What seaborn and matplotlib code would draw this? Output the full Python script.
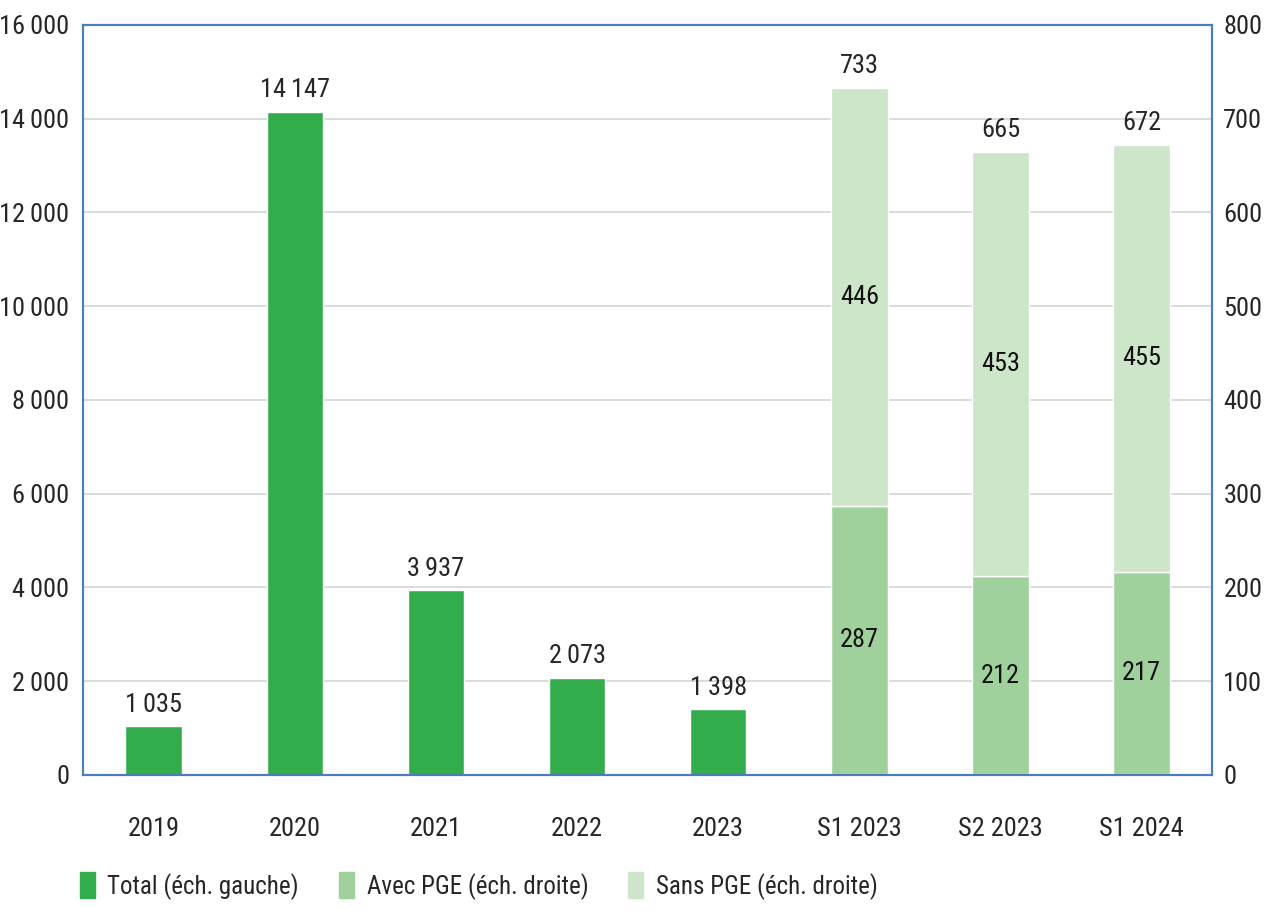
import matplotlib.pyplot as plt
import seaborn as sns
import pandas as pd
from matplotlib import font_manager

categories = ["2019", "2020", "2021", "2022", "2023", "S1 2023", "S2 2023", "S1 2024"]
annees = ["2019", "2020", "2021", "2022", "2023"]
total = [1035, 14147, 3937, 2073, 1398]
semestres = ["S1 2023", "S2 2023", "S1 2024"]
avec_pge = [287, 212, 217]
sans_pge = [446, 453, 455]

left_ticks = [0, 2000, 4000, 6000, 8000, 10000, 12000, 14000, 16000]
right_ticks = [0, 100, 200, 300, 400, 500, 600, 700, 800]

c_total = "#33ad4c"
c_avec = "#a0d19c"
c_sans = "#cde6c9"
c_frame = "#4a7ebb"
c_text = "#262626"


def fmt(v):
    return f"{v:,}".replace(",", "\u2009")


# police condensée si dispo, sinon Liberation Sans plus petite
condensed = None
for fam in ["Liberation Sans Narrow", "Roboto Condensed", "Open Sans Condensed"]:
    try:
        font_manager.findfont(font_manager.FontProperties(family=fam), fallback_to_default=False)
        condensed = fam
        break
    except Exception:
        pass

sns.set_style("white")
if condensed:
    plt.rcParams["font.family"] = [condensed, "DejaVu Sans"]
    fs = 18
else:
    plt.rcParams["font.family"] = ["Liberation Sans", "DejaVu Sans"]
    fs = 15

df_tot = pd.DataFrame({"cat": annees, "val": total})
df_sem = pd.DataFrame({"cat": semestres, "avec": avec_pge, "sans": sans_pge})

fig = plt.figure(figsize=(12.68, 9.11), dpi=100)
ax = fig.add_axes([0.0655, 0.1493, 0.8905, 0.8233])
ax2 = ax.twinx()

sns.barplot(data=df_tot, x="cat", y="val", order=categories, color=c_total,
            width=0.4, saturation=1, ax=ax, zorder=2)
sns.barplot(data=df_sem, x="cat", y="avec", order=categories, color=c_avec,
            width=0.4, saturation=1, ax=ax2)
sns.barplot(data=df_sem, x="cat", y="sans", order=categories, color=c_sans,
            width=0.4, saturation=1, ax=ax2, bottom=df_sem["avec"].values)

ax.bar_label(ax.containers[0], labels=[fmt(v) for v in total], padding=7,
             fontsize=fs + 1, color=c_text)
ax2.bar_label(ax2.containers[0], labels=[str(v) for v in avec_pge],
              label_type="center", fontsize=fs + 1, color="#111111")
ax2.bar_label(ax2.containers[1], labels=[str(v) for v in sans_pge],
              label_type="center", fontsize=fs + 1, color="#111111")
ax2.bar_label(ax2.containers[1],
              labels=[str(a + s) for a, s in zip(avec_pge, sans_pge)],
              padding=7, fontsize=fs + 1, color=c_text)

ax.set_ylim(0, 16000)
ax2.set_ylim(0, 800)
ax.set_yticks(left_ticks)
ax.set_yticklabels([fmt(v) for v in left_ticks])
ax2.set_yticks(right_ticks)
ax2.set_yticklabels([str(v) for v in right_ticks])
ax.set_xlim(-0.5, len(categories) - 0.5)
ax.set_xticks(range(len(categories)))
ax.set_xticklabels(categories)

ax.yaxis.grid(True, color="#d4d4d4", linewidth=1.2, zorder=0)
ax.set_axisbelow(True)
ax2.grid(False)

for a in (ax, ax2):
    a.set_xlabel("")
    a.set_ylabel("")
    for sp in a.spines.values():
        sp.set_visible(True)
        sp.set_color(c_frame)
        sp.set_linewidth(1.5)
    a.tick_params(length=0, labelsize=fs + 1, colors=c_text)

ax.tick_params(axis="x", pad=30)
ax.tick_params(axis="y", pad=10)
ax2.tick_params(axis="y", pad=8)

handles = [plt.Rectangle((0, 0), 1, 1, color=c) for c in (c_total, c_avec, c_sans)]
fig.legend(handles, ["Total (éch. gauche)", "Avec PGE (éch. droite)", "Sans PGE (éch. droite)"],
           loc="center left", bbox_to_anchor=(0.063, 1 - 886 / 911), ncol=3,
           frameon=False, fontsize=fs, handlelength=0.6, handleheight=1.2,
           handletextpad=0.5, columnspacing=1.6, labelcolor=c_text,
           borderpad=0, borderaxespad=0)

fig.savefig("out.png", dpi=100)
